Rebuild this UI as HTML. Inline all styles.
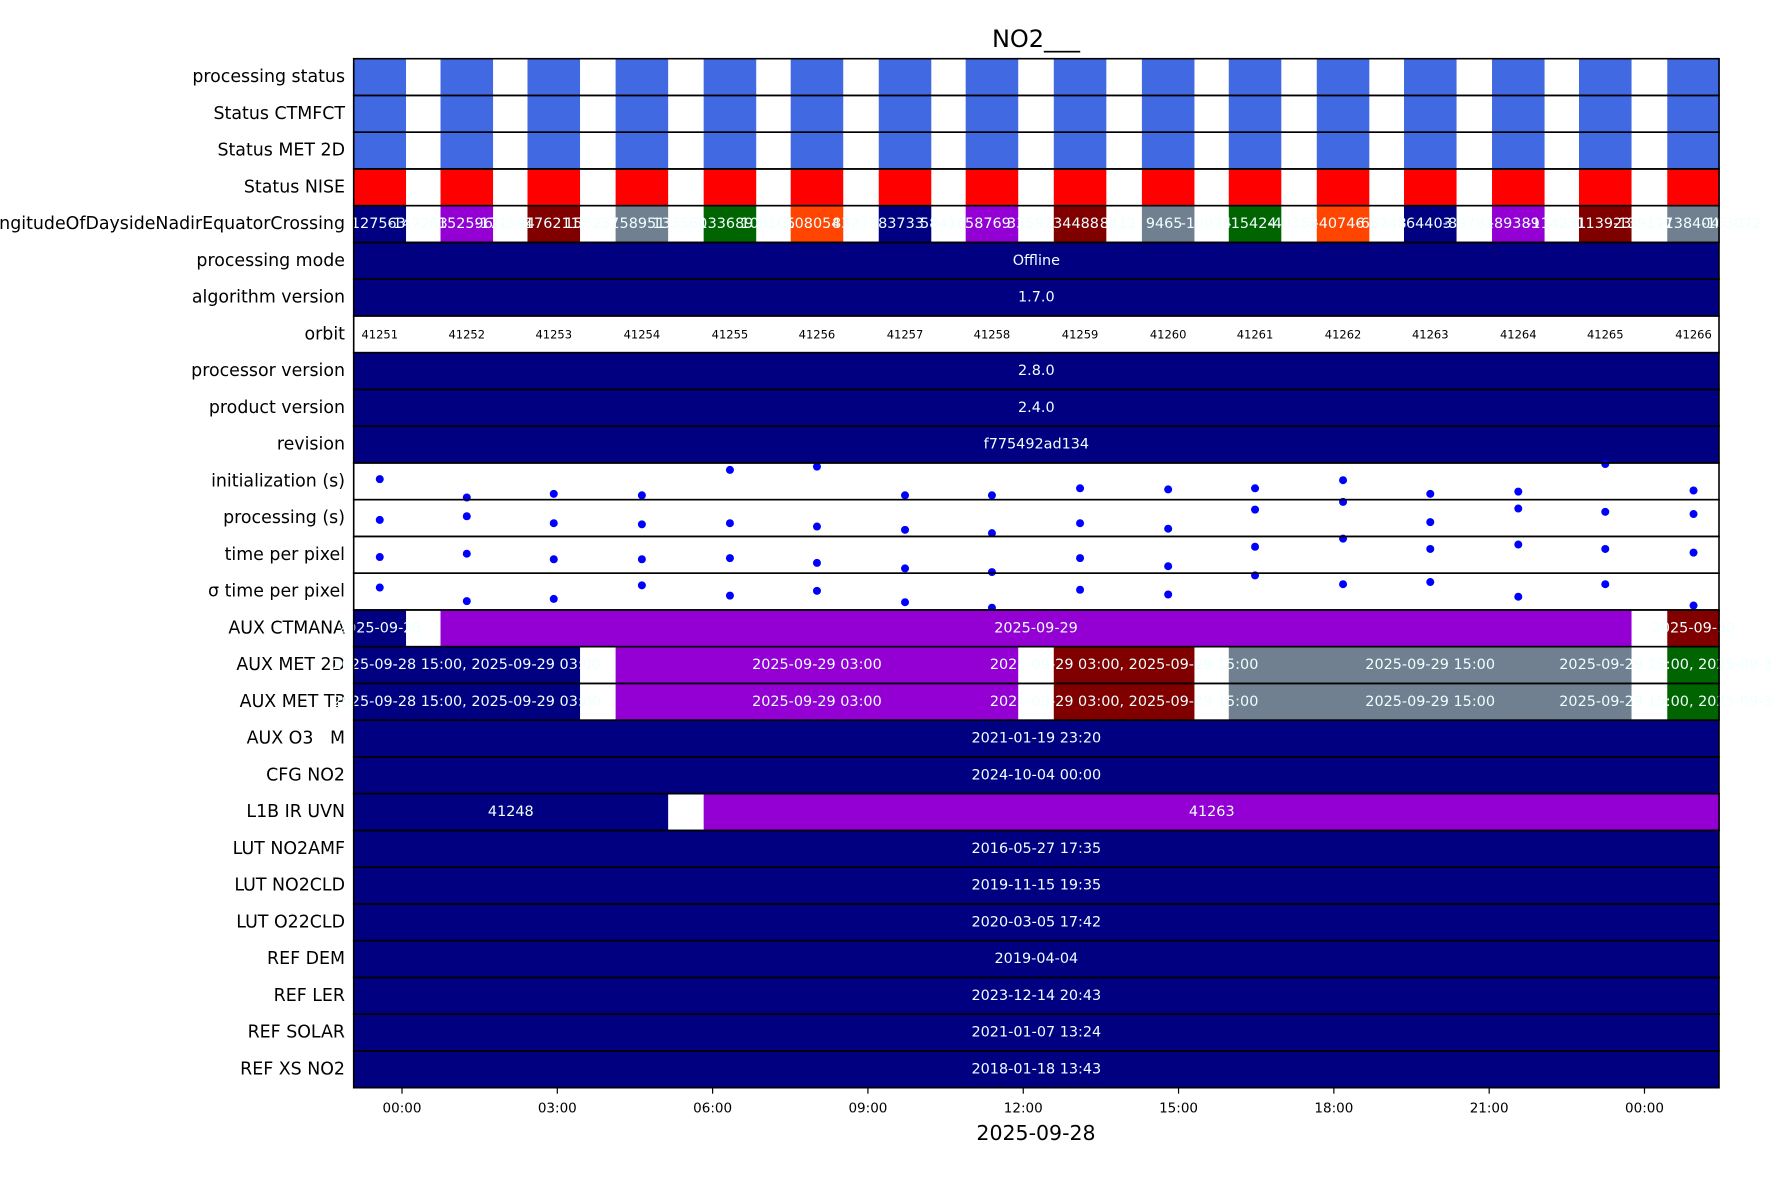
<!DOCTYPE html>
<html><head><meta charset="utf-8"><style>
html,body{margin:0;padding:0;background:#fff;}
svg{display:block;font-family:"DejaVu Sans","Liberation Sans",sans-serif;}
text{white-space:pre;}
</style></head><body>
<svg id="chart" width="1771" height="1181" viewBox="0 0 1771 1181" xmlns="http://www.w3.org/2000/svg">
<text x="1036" y="47" font-size="24" text-anchor="middle">NO2___</text>
<g id="rows"></g>
<g id="axis"></g>
<text x="1036" y="1140" font-size="20.5" text-anchor="middle">2025-09-28</text>
</svg>
<script>
// ---- data ----
const rowLabels = ["processing status","Status CTMFCT","Status MET 2D","Status NISE","LongitudeOfDaysideNadirEquatorCrossing","processing mode","algorithm version","orbit","processor version","product version","revision","initialization (s)","processing (s)","time per pixel","σ time per pixel","AUX CTMANA","AUX MET 2D","AUX MET TP","AUX O3   M","CFG NO2","L1B IR UVN","LUT NO2AMF","LUT NO2CLD","LUT O22CLD","REF DEM","REF LER","REF SOLAR","REF XS NO2"];
const orbitStart = [-0.937,0.744,2.424,4.126,5.827,7.508,9.209,10.888,12.590,14.292,15.970,17.670,19.355,21.055,22.735,24.440]; // hours since 2025-09-28 00:00
const orbitDuration = [1.015,1.015,1.015,1.015,1.015,1.015,1.015,1.015,1.015,1.015,1.015,1.015,1.015,1.015,1.015,1.015];
const orbitNumbers = ["41251","41252","41253","41254","41255","41256","41257","41258","41259","41260","41261","41262","41263","41264","41265","41266"];
const lonColors = ["#000080","#9400d3","#800000","#708090","#006400","#ff4500","#000080","#9400d3","#800000","#708090","#006400","#ff4500","#000080","#9400d3","#800000","#708090"];
const lonLabelA = ["-127563","-152596","-176211","158951","133689","108054","83733","58769","34488","9465","-15424","-40746","-64403","-89389","-113923","-138404"];
const lonLabelB = ["-147263","-171594","156237","133560","108105","83270","58416","33592","8412","-16074","-40352","-65248","-89781","-114251","-139117","-163072"];
const initVals = [0.56,0.06,0.16,0.12,0.81,0.90,0.12,0.12,0.31,0.28,0.31,0.53,0.16,0.22,0.97,0.25];
const procVals = [0.45,0.55,0.36,0.33,0.36,0.27,0.18,0.09,0.36,0.21,0.73,0.94,0.39,0.76,0.67,0.61];
const tppVals = [0.44,0.53,0.38,0.38,0.41,0.28,0.13,0.03,0.41,0.19,0.72,0.94,0.66,0.78,0.66,0.56];
const sigmaVals = [0.61,0.24,0.30,0.67,0.39,0.52,0.21,0.06,0.55,0.42,0.94,0.70,0.76,0.36,0.70,0.12];
// segments: [firstOrbit, lastOrbit, color, label]
const ctmanaSegs = [[0,0,"#000080","2025-09-28"],[1,14,"#9400d3","2025-09-29"],[15,15,"#800000","2025-09-30"]];
const met2dSegs = [[0,2,"#000080","2025-09-28 15:00, 2025-09-29 03:00"],[3,7,"#9400d3","2025-09-29 03:00"],[8,9,"#800000","2025-09-29 03:00, 2025-09-29 15:00"],[10,14,"#708090","2025-09-29 15:00"],[15,15,"#006400","2025-09-29 15:00, 2025-09-30 03:00"]];
const mettpSegs = [[0,2,"#000080","2025-09-28 15:00, 2025-09-29 03:00"],[3,7,"#9400d3","2025-09-29 03:00"],[8,9,"#800000","2025-09-29 03:00, 2025-09-29 15:00"],[10,14,"#708090","2025-09-29 15:00"],[15,15,"#006400","2025-09-29 15:00, 2025-09-30 03:00"]];
const l1bSegs = [[0,3,"#000080","41248"],[4,15,"#9400d3","41263"]];
const fullRowText = {5:"Offline",6:"1.7.0",8:"2.8.0",9:"2.4.0",10:"f775492ad134",18:"2021-01-19 23:20",19:"2024-10-04 00:00",21:"2016-05-27 17:35",22:"2019-11-15 19:35",23:"2020-03-05 17:42",24:"2019-04-04",25:"2023-12-14 20:43",26:"2021-01-07 13:24",27:"2018-01-18 13:43"};
const tickHours = [0,3,6,9,12,15,18,21,24];
const tickLabels = ["00:00","03:00","06:00","09:00","12:00","15:00","18:00","21:00","00:00"];

// ---- layout ----
const X0 = 402, PXH = 51.77, TOP = 58.7, RH = 36.75, LEFT = 353.7, RIGHT = 1719;
function xs(h){ return X0 + h*PXH; }
function rowTop(i){ return TOP + i*RH; }
const NS = "http://www.w3.org/2000/svg";
const rowsG = document.getElementById('rows');
const axisG = document.getElementById('axis');
function mk(tag, attrs, parent){ const e=document.createElementNS(NS,tag); for(const k in attrs) e.setAttribute(k,attrs[k]); parent.appendChild(e); return e; }
const CELLTXT = "#f0ffff";
const CELLFS = 14.4;

function cellText(g, x, y, txt, size, fill){
  const t = mk('text',{x:x,y:y,'font-size':size,'text-anchor':'middle','dominant-baseline':'central',fill:fill},g);
  
  
  t.textContent = txt;
  return t;
}
function segRow(g, i, segs){
  const y = rowTop(i);
  segs.forEach(s=>{
    const x1 = xs(orbitStart[s[0]]), x2 = xs(orbitStart[s[1]] + orbitDuration[s[1]]);
    const r = mk('rect',{x:x1,y:y,width:x2-x1,height:RH,fill:s[2]},g);
    
    
  });
  segs.forEach(s=>{
    const x1 = xs(orbitStart[s[0]]), x2 = xs(orbitStart[s[1]] + orbitDuration[s[1]]);
    cellText(g,(x1+x2)/2,y+RH/2,s[3],CELLFS,CELLTXT);
  });
}

rowLabels.forEach((lab,i)=>{
  const g = mk('g',{},rowsG);
  
  
  const y = rowTop(i);
  const lt = mk('text',{x:345,y:y+RH/2,'font-size':17.4,'text-anchor':'end','dominant-baseline':'central',fill:'#000'},g);
  
  
  lt.textContent = lab;
  if(i<=3){
    const col = i===3 ? '#ff0000' : '#4169e1';
    orbitStart.forEach((s,k)=>{
      const r = mk('rect',{x:xs(s),y:y,width:orbitDuration[k]*PXH,height:RH,fill:col},g);
      
      
    });
  } else if(i===4){
    orbitStart.forEach((s,k)=>{
      const r = mk('rect',{x:xs(s),y:y,width:orbitDuration[k]*PXH,height:RH,fill:lonColors[k]},g);
      
      
    });
    orbitStart.forEach((s,k)=>{
      const cx = xs(s + orbitDuration[k]/2);
      cellText(g,cx-4,y+RH/2,lonLabelA[k],CELLFS,CELLTXT);
      cellText(g,cx+38,y+RH/2,lonLabelB[k],CELLFS,CELLTXT);
    });
  } else if(i===7){
    orbitStart.forEach((s,k)=>{
      cellText(g,xs(s + orbitDuration[k]/2),y+RH/2,orbitNumbers[k],11.5,'#000');
    });
  } else if(i>=11 && i<=14){
    const vals = [initVals,procVals,tppVals,sigmaVals][i-11];
    orbitStart.forEach((s,k)=>{
      const c = mk('circle',{cx:xs(s + orbitDuration[k]/2),cy:y+(1-vals[k])*RH,r:4,fill:'#0000ff'},g);
      
      
    });
  } else if(i===15){ segRow(g,i,ctmanaSegs); }
  else if(i===16){ segRow(g,i,met2dSegs); }
  else if(i===17){ segRow(g,i,mettpSegs); }
  else if(i===20){ segRow(g,i,l1bSegs); }
  else if(fullRowText[i]!==undefined){
    const r = mk('rect',{x:LEFT,y:y,width:RIGHT-LEFT,height:RH,fill:'#000080'},g);
    
    
    cellText(g,(LEFT+RIGHT)/2,y+RH/2,fullRowText[i],CELLFS,CELLTXT);
  }
});
rowLabels.forEach((lab,i)=>{
  const r = mk('rect',{x:LEFT,y:rowTop(i),width:RIGHT-LEFT,height:RH,fill:'none',stroke:'#000','stroke-width':1.6},axisG);
  
  
});
const bottom = rowTop(rowLabels.length);
tickHours.forEach((h,k)=>{
  const x = xs(h);
  const l = mk('line',{x1:x,y1:bottom,x2:x,y2:bottom+6,stroke:'#000','stroke-width':1.2},axisG);
  
  
  const t = mk('text',{x:x,y:bottom+21,'font-size':13.5,'text-anchor':'middle','dominant-baseline':'central'},axisG);
  
  
  t.textContent = tickLabels[k];
});
</script>
</body></html>
